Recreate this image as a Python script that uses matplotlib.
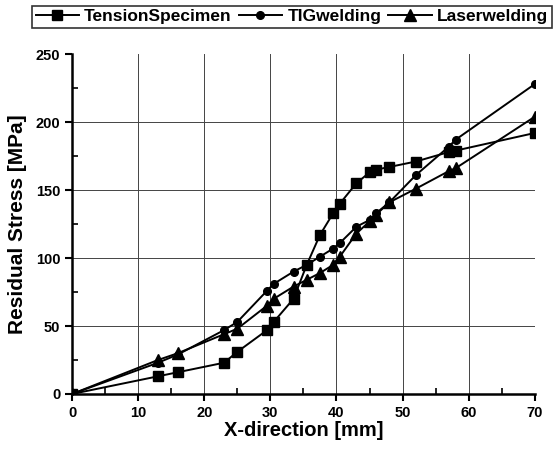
import matplotlib
matplotlib.use("Agg")
import matplotlib.pyplot as plt
from matplotlib.ticker import MultipleLocator

plt.rcParams['font.family'] = ['Liberation Sans', 'DejaVu Sans']
plt.rcParams['font.weight'] = 'bold'

x_pos = [0, 13, 16, 23, 25, 29.5, 30.5, 33.5, 35.5, 37.5, 39.5, 40.5, 43, 45, 46, 48, 52, 57, 58, 70]
tension = [0, 13, 16, 23, 31, 47, 53, 70, 95, 117, 133, 140, 155, 163, 165, 167, 171, 178, 179, 192]
tig = [0, 23, 29, 47, 53, 76, 81, 90, 95, 101, 107, 111, 123, 128, 133, 141, 161, 182, 187, 228]
laser = [0, 25, 30, 44, 48, 65, 70, 79, 84, 89, 95, 101, 118, 127, 132, 141, 151, 164, 166, 204]

fig = plt.figure(figsize=(5.56, 4.51), dpi=100)
ax = fig.add_axes([0.1295, 0.1264, 0.8325, 0.7536])

# grid lines (none on the axis limits)
for gx in range(10, 70, 10):
    ax.axvline(gx, color='#444444', lw=0.7, zorder=0)
for gy in range(50, 250, 50):
    ax.axhline(gy, color='#444444', lw=0.7, zorder=0)

ax.plot(x_pos, tension, '-s', color='black', lw=1.4, ms=6.5, label='TensionSpecimen')
ax.plot(x_pos, tig, '-o', color='black', lw=1.4, ms=5.5, label='TIGwelding')
ax.plot(x_pos, laser, '-^', color='black', lw=1.4, ms=8.5, label='Laserwelding')

ax.set_xlim(0, 70)
ax.set_ylim(0, 250)
ax.xaxis.set_major_locator(MultipleLocator(10))
ax.xaxis.set_minor_locator(MultipleLocator(5))
ax.yaxis.set_major_locator(MultipleLocator(50))
ax.yaxis.set_minor_locator(MultipleLocator(25))
ax.tick_params(which='major', direction='out', length=5, width=1.5, labelsize=10.5)
ax.tick_params(which='minor', direction='in', length=4, width=1.2)

ax.spines['top'].set_visible(False)
ax.spines['right'].set_visible(False)
ax.spines['left'].set_linewidth(1.8)
ax.spines['bottom'].set_linewidth(1.8)

ax.set_xlabel('X-direction [mm]', fontsize=14.5, fontweight='bold', labelpad=1)
ax.set_ylabel('Residual Stress [MPa]', fontsize=15, fontweight='bold', labelpad=6)

leg = fig.legend(loc='center', bbox_to_anchor=(0.525, 0.963), ncol=3, fontsize=12.5,
                 frameon=True, fancybox=False, edgecolor='black', handlelength=2.5,
                 handletextpad=0.3, columnspacing=0.4, borderpad=0.2, borderaxespad=0)
leg.get_frame().set_linewidth(1.2)
for t in leg.get_texts():
    t.set_fontweight('bold')

fig.savefig('out.png', dpi=100)
